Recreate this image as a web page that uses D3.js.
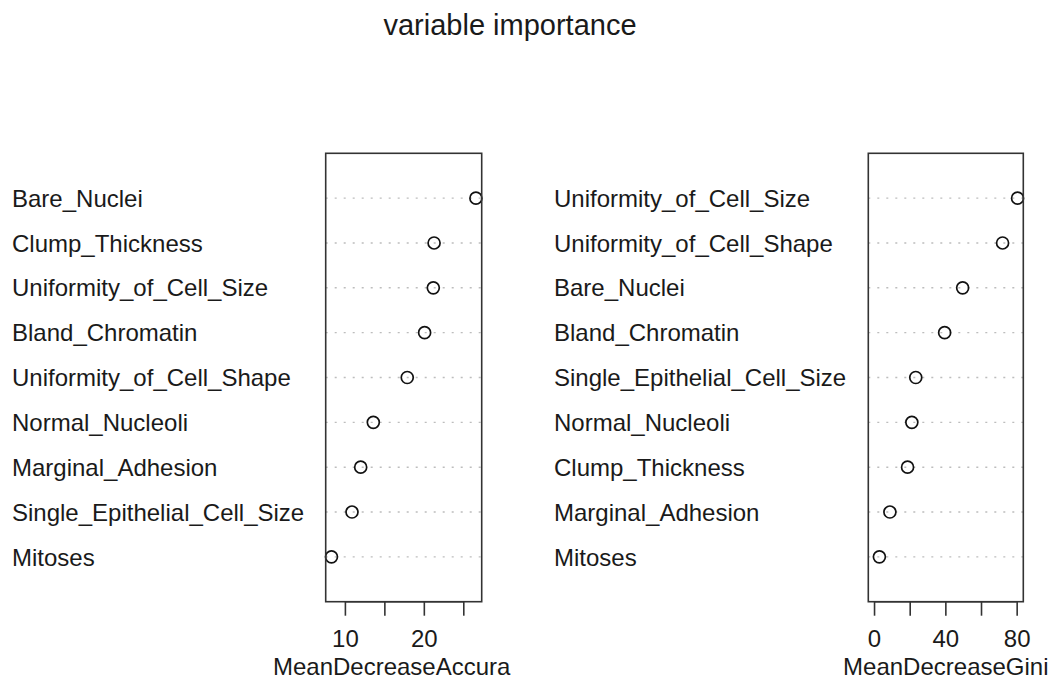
<!DOCTYPE html>
<meta charset="utf-8">
<script src="https://d3js.org/d3.v7.min.js"></script>
<style>
  body { margin: 0; background: #fff; }
  text { font-family: "Liberation Sans", Arial, sans-serif; fill: #1a1a1a; }
  .lab { font-size: 24px; }
  .tick text { font-size: 24px; fill: #1a1a1a; }
  .tick line, .domain { stroke: #333; stroke-width: 1.6; }
</style>
<div id="chart"></div>
<script>
// left panel: MeanDecreaseAccuracy, top to bottom
var accLabels = ["Bare_Nuclei", "Clump_Thickness", "Uniformity_of_Cell_Size", "Bland_Chromatin",
  "Uniformity_of_Cell_Shape", "Normal_Nucleoli", "Marginal_Adhesion", "Single_Epithelial_Cell_Size", "Mitoses"];
var accValues = [26.6, 21.3, 21.2, 20.1, 17.9, 13.6, 12.0, 10.9, 8.3];
var accTicks = [10, 15, 20, 25];
var accTickLabels = [10, 20];

// right panel: MeanDecreaseGini, top to bottom
var giniLabels = ["Uniformity_of_Cell_Size", "Uniformity_of_Cell_Shape", "Bare_Nuclei", "Bland_Chromatin",
  "Single_Epithelial_Cell_Size", "Normal_Nucleoli", "Clump_Thickness", "Marginal_Adhesion", "Mitoses"];
var giniValues = [80.5, 72.1, 49.7, 39.6, 23.4, 21.2, 18.8, 8.9, 3.0];
var giniTicks = [0, 20, 40, 60, 80];
var giniTickLabels = [0, 40, 80];

var W = 1051, H = 684;
var boxTop = 153.3, boxBottom = 601.7;

var svg = d3.select("#chart").append("svg")
  .attr("width", W).attr("height", H);

svg.append("text")
  .attr("x", 510).attr("y", 35)
  .attr("text-anchor", "middle")
  .style("font-size", "29px")
  .text("variable importance");

function panel(labels, values, ticks, tickLabels, xmin, title, titleShown, labX, x0, x1) {
  var n = values.length;
  // like R's dotchart: xlim extended by 4%
  var lo = xmin === null ? d3.min(values) : xmin, hi = d3.max(values);
  var pad = (hi - lo) * 0.04;
  var x = d3.scaleLinear().domain([lo - pad, hi + pad]).range([x0, x1]);
  var y = d3.scaleLinear().domain([0, n + 1]).range([boxBottom, boxTop]);

  var g = svg.append("g");

  // dotted guide lines
  g.selectAll(".guide").data(values).enter().append("line")
    .attr("x1", x0).attr("x2", x1)
    .attr("y1", function(d, i) { return y(n - i); })
    .attr("y2", function(d, i) { return y(n - i); })
    .attr("stroke", "#bdbdbd").attr("stroke-width", 1.4)
    .attr("stroke-dasharray", "2,7");

  // row labels
  g.selectAll(".lab").data(labels).enter().append("text")
    .attr("class", "lab")
    .attr("x", labX)
    .attr("y", function(d, i) { return y(n - i); })
    .attr("dy", "0.36em")
    .text(function(d) { return d; });

  // points
  g.selectAll(".pt").data(values).enter().append("circle")
    .attr("cx", function(d) { return x(d); })
    .attr("cy", function(d, i) { return y(n - i); })
    .attr("r", 6)
    .attr("fill", "none")
    .attr("stroke", "#111").attr("stroke-width", 1.7);

  // box
  g.append("rect")
    .attr("x", x0).attr("y", boxTop)
    .attr("width", x1 - x0).attr("height", boxBottom - boxTop)
    .attr("fill", "none").attr("stroke", "#333").attr("stroke-width", 1.6);

  // x axis
  g.append("g")
    .attr("transform", "translate(0," + boxBottom + ")")
    .call(d3.axisBottom(x)
      .tickValues(ticks)
      .tickSize(14).tickSizeOuter(0).tickPadding(14)
      .tickFormat(function(d) { return tickLabels.indexOf(d) >= 0 ? d : ""; }))
    .call(function(a) { a.select(".domain").attr("d", "M" + x(ticks[0]) + ",0H" + x(ticks[ticks.length - 1])); });

  // axis title, centred on the box; R clips the part running past the figure edge
  var cx = (x0 + x1) / 2;
  var t = g.append("text").attr("class", "lab").attr("y", 675).text(title);
  var w = t.node().getComputedTextLength();
  t.attr("x", cx - w / 2).text(titleShown);
}

panel(accLabels, accValues, accTicks, accTickLabels, null,
  "MeanDecreaseAccuracy", "MeanDecreaseAccura", 12, 325.7, 481.7);
panel(giniLabels, giniValues, giniTicks, giniTickLabels, 0,
  "MeanDecreaseGini", "MeanDecreaseGini", 554, 868.3, 1023.3);
</script>
